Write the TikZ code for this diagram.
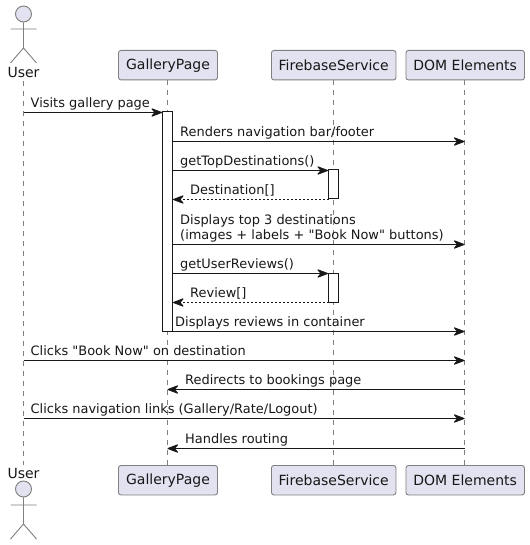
\documentclass[tikz,border=0pt]{standalone}
\usepackage{fontspec}
\setmainfont{DejaVu Sans}
\newfontfamily\plainfont{DejaVu Sans}
\usetikzlibrary{arrows.meta}
\definecolor{partfill}{HTML}{E2E2F0}
\definecolor{partline}{HTML}{7F7F7F}
\definecolor{ink}{HTML}{181818}
\tikzset{
 part/.style={draw=partline,fill=partfill,rounded corners=2.5pt,line width=0.9pt,minimum height=29.5pt,inner sep=0pt,text=ink,font=\plainfont\fontsize{14}{16}\selectfont},
 lifeline/.style={draw=partline,line width=0.8pt,dash pattern=on 5pt off 5pt},
 actorline/.style={draw=partline,line width=0.9pt},
 actorhead/.style={circle,draw=partline,fill=partfill,line width=0.9pt,minimum size=16pt,inner sep=0pt},
 actlabel/.style={inner sep=0pt,text=ink,font=\plainfont\fontsize{14}{16}\selectfont},
 msg/.style={-{Stealth[length=12.5pt,width=9.5pt,inset=4pt,round=false]},draw=ink,line width=1pt},
 ret/.style={msg,dash pattern=on 2pt off 2pt},
 bar/.style={draw=ink,fill=white,line width=1pt},
 lab/.style={anchor=base west,inner sep=0pt,text=ink,font=\plainfont\fontsize{12.95}{15}\selectfont,align=left},
}
\begin{document}
\begin{tikzpicture}[x=1pt,y=-1pt]
\useasboundingbox[fill=white] (0,0) rectangle (529,545);
% participants
\node[part,minimum width=99pt] (gt) at (168,65.2) {GalleryPage};
\node[part,minimum width=124.5pt] (ft) at (333.7,65.2) {FirebaseService};
\node[part,minimum width=118.5pt] (dt) at (465.2,65.2) {DOM Elements};
\node[part,minimum width=99pt] (gb) at (168,480.2) {GalleryPage};
\node[part,minimum width=124.5pt] (fb) at (333.7,480.2) {FirebaseService};
\node[part,minimum width=118.5pt] (db) at (465.2,480.2) {DOM Elements};
\node[actlabel] (ut) at (23.5,72.5) {User};
\node[actlabel] (ub) at (23.5,473) {User};
\coordinate (ul1) at (23.5,81);
\coordinate (ul2) at (23.5,465);
% lifelines
\draw[lifeline] (ul1) -- (ul2);
\draw[lifeline] (gt.south -| 167.5,0) -- (gb.north -| 167.5,0);
\draw[lifeline] (ft.south -| 333.5,0) -- (fb.north -| 333.5,0);
\draw[lifeline] (dt.south -| 464.5,0) -- (db.north -| 464.5,0);
% top actor
\node[actorhead] (hta) at (23.5,14) {};
\coordinate (hip1) at (23.5,48);
\coordinate (armL1) at (10.5,29);
\coordinate (armR1) at (36.5,29);
\coordinate (legL1) at (10.5,63);
\coordinate (legR1) at (36.5,63);
\draw[actorline] (hta.south) -- (hip1) (armL1) -- (armR1) (legL1) -- (hip1) -- (legR1);
% bottom actor
\node[actorhead] (hba) at (23.5,489) {};
\coordinate (hip2) at (23.5,524);
\coordinate (armL2) at (10.5,505);
\coordinate (armR2) at (36.5,505);
\coordinate (legL2) at (10.5,539);
\coordinate (legR2) at (36.5,539);
\draw[actorline] (hba.south) -- (hip2) (armL2) -- (armR2) (legL2) -- (hip2) -- (legR2);
% activations
\node[bar,minimum width=10pt,minimum height=219pt,inner sep=0pt] (ga) at (167.5,221.5) {};
\node[bar,minimum width=10pt,minimum height=29pt,inner sep=0pt] (fa1) at (333.5,184.5) {};
\node[bar,minimum width=10pt,minimum height=29pt,inner sep=0pt] (fa2) at (333.5,287.5) {};
% message endpoints
\coordinate (m1a) at (23.5,112.5);  \coordinate (m1b) at (162,112.5);
\coordinate (m2a) at (172.5,141.5); \coordinate (m2b) at (464.5,141.5);
\coordinate (m3a) at (172.5,170.5); \coordinate (m3b) at (328,170.5);
\coordinate (m4a) at (328.5,199.5); \coordinate (m4b) at (173,199.5);
\coordinate (m5a) at (172.5,244.5); \coordinate (m5b) at (464.5,244.5);
\coordinate (m6a) at (172.5,273.5); \coordinate (m6b) at (328,273.5);
\coordinate (m7a) at (328.5,302.5); \coordinate (m7b) at (173,302.5);
\coordinate (m8a) at (172.5,331.5); \coordinate (m8b) at (464.5,331.5);
\coordinate (m9a) at (23.5,360.5);  \coordinate (m9b) at (464.5,360.5);
\coordinate (m10a) at (464.5,389.5); \coordinate (m10b) at (167.5,389.5);
\coordinate (m11a) at (23.5,418.5); \coordinate (m11b) at (464.5,418.5);
\coordinate (m12a) at (464.5,448.5); \coordinate (m12b) at (167.5,448.5);
\draw[msg] (m1a) -- (m1b);
\draw[msg] (m2a) -- (m2b);
\draw[msg] (m3a) -- (m3b);
\draw[ret] (m4a) -- (m4b);
\draw[msg] (m5a) -- (m5b);
\draw[msg] (m6a) -- (m6b);
\draw[ret] (m7a) -- (m7b);
\draw[msg] (m8a) -- (m8b);
\draw[msg] (m9a) -- (m9b);
\draw[msg] (m10a) -- (m10b);
\draw[msg] (m11a) -- (m11b);
\draw[msg] (m12a) -- (m12b);
% labels
\node[lab] (l1) at (30.5,107.7) {Visits gallery page};
\node[lab] (l2) at (180,136.7) {Renders navigation bar/footer};
\node[lab] (l3) at (180,165.7) {getTopDestinations()};
\node[lab] (l4) at (190,194.7) {Destination[]};
\node[lab] (l5a) at (180,224.5) {Displays top 3 destinations};
\node[lab] (l5b) at (180,239.7) {(images + labels + "Book Now" buttons)};
\node[lab] (l6) at (180,268.7) {getUserReviews()};
\node[lab] (l7) at (190,297.7) {Review[]};
\node[lab] (l8) at (175,326.7) {Displays reviews in container};
\node[lab] (l9) at (30.5,355.7) {Clicks "Book Now" on destination};
\node[lab] (l10) at (185,384.7) {Redirects to bookings page};
\node[lab] (l11) at (30.5,413.7) {Clicks navigation links (Gallery/Rate/Logout)};
\node[lab] (l12) at (185,443.7) {Handles routing};
\end{tikzpicture}
\end{document}
